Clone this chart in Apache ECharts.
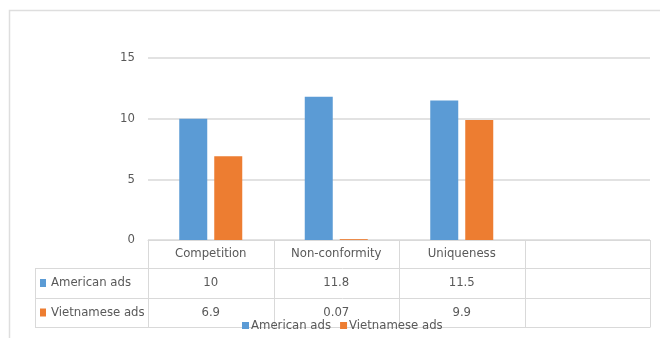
<!DOCTYPE html>
<html>
<head>
<meta charset="utf-8">
<script src="https://cdn.jsdelivr.net/npm/echarts@6/dist/echarts.min.js"></script>
<style>
  html, body { margin: 0; padding: 0; background: #fff; }
  #chart { width: 660px; height: 338px; }
</style>
</head>
<body>
<div id="chart"></div>
<script>
// Data
var categories = ['Competition', 'Non-conformity', 'Uniqueness', ''];
var seriesNames = ['American ads', 'Vietnamese ads'];
var americanAds = [10, 11.8, 11.5];
var vietnameseAds = [6.9, 0.07, 9.9];
var yTicks = [0, 5, 10, 15];

var FONT = '"Liberation Sans Narrow", "DejaVu Sans Condensed", "Arial Narrow", sans-serif';
var FS = 13;
var TEXT = '#595959';
var LINE = '#d9d9d9';
var COLORS = ['#5b9bd5', '#ed7d31'];

// Plot area geometry
var G = { left: 148, right: 650, top: 58, bottom: 240 };
var rowLines = [268, 298, 327];
var tableLeft = 35;

function rowAxis(values, offset) {
  return {
    type: 'category',
    data: categories.map(function (c, i) { return i < values.length ? String(values[i]) : ''; }),
    position: 'bottom',
    offset: offset,
    axisLine: { show: false },
    axisTick: { show: false },
    axisLabel: { margin: 0, fontFamily: FONT, fontSize: FS, color: TEXT, lineHeight: 16, interval: 0 },
    splitLine: { show: false }
  };
}

var chart = echarts.init(document.getElementById('chart'), null, { renderer: 'canvas' });

// Chart frame and data-table rules
var graphics = [];
graphics.push({
  type: 'rect',
  shape: { x: 9.5, y: 10.5, width: 700, height: 400 },
  style: { fill: 'none', stroke: '#dedede', lineWidth: 1.5 },
  silent: true
});
var colW = (G.right - G.left) / categories.length;
rowLines.forEach(function (y) {
  graphics.push({ type: 'line', shape: { x1: tableLeft, y1: y + 0.5, x2: G.right, y2: y + 0.5 },
    style: { stroke: LINE, lineWidth: 1 }, silent: true });
});
for (var i = 0; i <= categories.length; i++) {
  var x = Math.round(G.left + i * colW) + 0.5;
  graphics.push({ type: 'line', shape: { x1: x, y1: G.bottom, x2: x, y2: rowLines[2] + 0.5 },
    style: { stroke: LINE, lineWidth: 1 }, silent: true });
}
graphics.push({ type: 'line', shape: { x1: tableLeft + 0.5, y1: rowLines[0], x2: tableLeft + 0.5, y2: rowLines[2] + 0.5 },
  style: { stroke: LINE, lineWidth: 1 }, silent: true });

// Row headers with legend keys
seriesNames.forEach(function (name, k) {
  var yc = (rowLines[k] + rowLines[k + 1]) / 2;
  graphics.push({ type: 'rect', shape: { x: 40, y: yc - 4, width: 6, height: 8 },
    style: { fill: COLORS[k] }, silent: true });
  graphics.push({ type: 'text', x: 51, y: yc,
    style: { text: name, font: FS + 'px ' + FONT, fill: TEXT, textVerticalAlign: 'middle' }, silent: true });
});

chart.setOption({
  animation: false,
  color: COLORS,
  textStyle: { fontFamily: FONT },
  grid: { left: G.left, top: G.top, width: G.right - G.left, height: G.bottom - G.top },
  legend: {
    data: seriesNames,
    left: 237,
    top: 314,
    icon: 'rect',
    itemWidth: 7,
    itemHeight: 7,
    itemGap: 9,
    textStyle: { fontFamily: FONT, fontSize: FS, color: TEXT, padding: [0, 0, 0, -3] }
  },
  xAxis: [
    {
      type: 'category',
      data: categories,
      axisLine: { show: true, lineStyle: { color: LINE, width: 1 } },
      axisTick: { show: false },
      axisLabel: { margin: 6, fontFamily: FONT, fontSize: FS, color: TEXT, lineHeight: 16, interval: 0 },
      splitLine: { show: false }
    },
    rowAxis(americanAds, 35),
    rowAxis(vietnameseAds, 65)
  ],
  yAxis: {
    type: 'value',
    min: yTicks[0],
    max: yTicks[yTicks.length - 1],
    interval: 5,
    axisLine: { show: false },
    axisTick: { show: false },
    axisLabel: { margin: 13, fontFamily: FONT, fontSize: FS, color: TEXT },
    splitLine: { lineStyle: { color: LINE, width: 1.5 } }
  },
  series: [
    { name: seriesNames[0], type: 'bar', data: americanAds, barWidth: 28, barGap: '25%', xAxisIndex: 0 },
    { name: seriesNames[1], type: 'bar', data: vietnameseAds, barWidth: 28, barGap: '25%', xAxisIndex: 0 }
  ],
  graphic: graphics
});
</script>
</body>
</html>
